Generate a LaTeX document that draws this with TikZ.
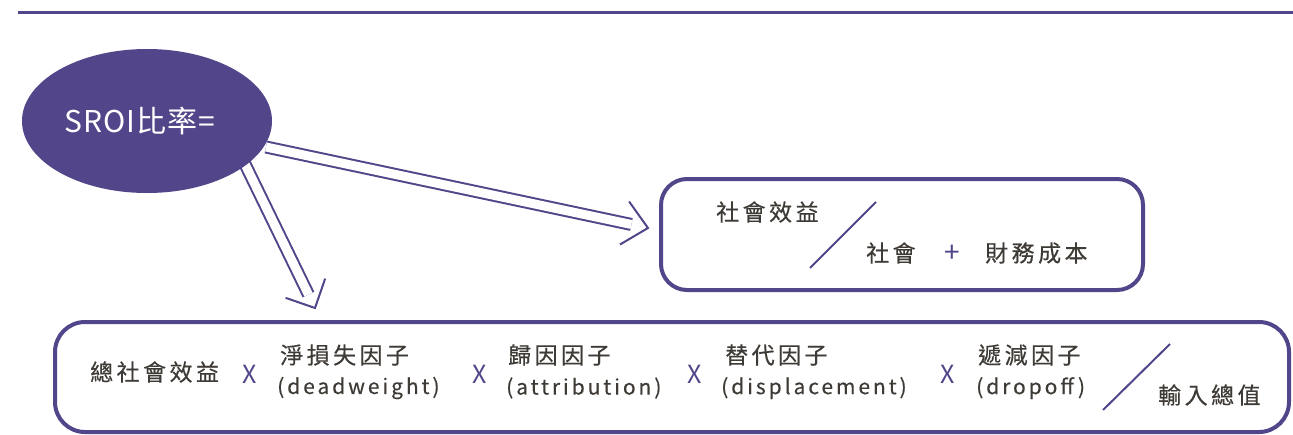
\documentclass[tikz,border=0pt]{standalone}
\usepackage{fontspec}
\setmainfont{Noto Sans CJK TC}
\usetikzlibrary{calc,shapes.geometric}
\definecolor{pur}{HTML}{52458A}
\definecolor{txt}{HTML}{3E3A35}
\tikzset{
  dbl/.style={draw=pur, line width=2pt, double=white, double distance=9pt},
  tipline/.style={draw=pur, line width=2pt, line join=miter},
  frame/.style={draw=pur, line width=4pt, rounded corners=26pt, inner sep=0pt},
  lab/.style={text=txt, inner sep=0pt, anchor=west, font=\fontsize{23}{25}\selectfont\addfontfeature{LetterSpace=15,FakeBold=0.4}},
  lat/.style={text=txt, inner sep=0pt, anchor=west, font=\fontsize{21}{23}\selectfont\addfontfeature{LetterSpace=14,FakeBold=0.3}},
  times/.style={text=pur, inner sep=0pt, font=\fontsize{25}{27}\selectfont},
  slash/.style={draw=pur, line width=2pt}
}
\begin{document}
\begin{tikzpicture}[x=1pt,y=-1pt]
\useasboundingbox (0,0) rectangle (1293,434);
% top rule
\coordinate (r1) at (18,12);
\coordinate (r2) at (1293,12);
\draw[draw=pur, line width=3pt] (r1) -- (r2);

% arrows (drawn first, ellipse on top)
\coordinate (a1s) at (266,147);
\coordinate (a1e) at (648,228);
\coordinate (a2s) at (244,162);
\coordinate (a2e) at (315,308);
\draw[dbl, shorten >=17pt] (a1s) -- (a1e);
\draw[tipline] ($(a1e)!24pt!(a1s)!22pt!90:(a1e)$) -- (a1e) -- ($(a1e)!24pt!(a1s)!22pt!-90:(a1e)$);
\draw[dbl, shorten >=15pt] (a2s) -- (a2e);
\draw[tipline] ($(a2e)!22pt!(a2s)!22pt!90:(a2e)$) -- (a2e) -- ($(a2e)!22pt!(a2s)!22pt!-90:(a2e)$);

% ellipse
\node[ellipse, fill=pur, minimum width=250pt, minimum height=144pt, inner sep=0pt] (ell) at (147,121) {};
\node[text=white, inner sep=0pt, font=\fontsize{30}{32}\selectfont\addfontfeature{LetterSpace=3}] (ellt) at (140,121) {SROI比率=};

% box 1
\node[frame, minimum width=482pt, minimum height=111pt] (box1) at (902,234.5) {};
\node[lab] (b1a) at (716,212) {社會效益};
\coordinate (s1a) at (810,268);
\coordinate (s1b) at (876,202);
\draw[slash] (s1a) -- (s1b);
\node[lab] (b1b) at (866,253) {社會};
\node[times, font=\fontsize{28}{30}\selectfont] (plus) at (952,254) {+};
\node[lab] (b1c) at (985,253) {財務成本};

% box 2
\node[frame, rounded corners=30pt, minimum width=1234pt, minimum height=110pt] (box2) at (672,377) {};
\node[lab] (c1) at (90,372) {總社會效益};
\node[times] (x1) at (250,374) {X};
\node[lab] (c2) at (280,355) {淨損失因子};
\node[lat] (c2e) at (277,388) {(deadweight)};
\node[times] (x2) at (480,374) {X};
\node[lab] (c3) at (508,355) {歸因因子};
\node[lat] (c3e) at (506,388) {(attribution)};
\node[times] (x3) at (695,374) {X};
\node[lab] (c4) at (725,355) {替代因子};
\node[lat] (c4e) at (721,388) {(displacement)};
\node[times] (x4) at (948,374) {X};
\node[lab] (c5) at (978,355) {遞減因子};
\node[lat] (c5e) at (976,388) {(dropoff)};
\coordinate (s2a) at (1103,410);
\coordinate (s2b) at (1170,344);
\draw[slash] (s2a) -- (s2b);
\node[lab] (c6) at (1158,395) {輸入總值};
\end{tikzpicture}
\end{document}
